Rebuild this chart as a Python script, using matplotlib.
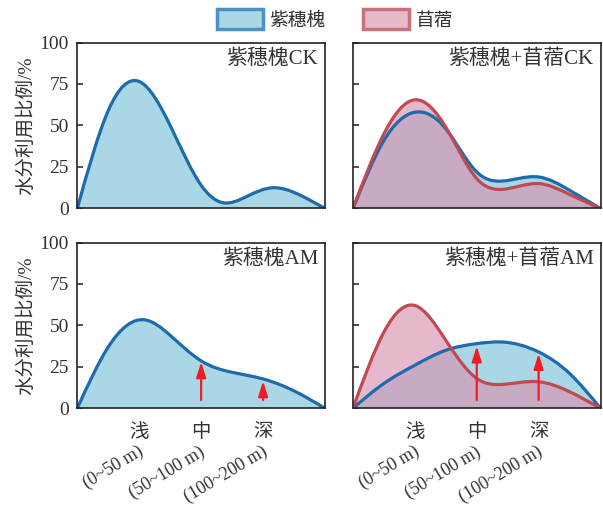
import numpy as np
import matplotlib
matplotlib.use('Agg')
import matplotlib.pyplot as plt
from matplotlib.path import Path
from matplotlib.patches import PathPatch, Patch

plt.rcParams['font.family'] = ['Liberation Serif', 'Noto Sans CJK SC']
plt.rcParams['axes.unicode_minus'] = False

# ---------------- data ----------------
depth_ticks = [1, 2, 3]
depth_labels = ['浅', '中', '深']
depth_ranges = ['(0~50 m)', '(50~100 m)', '(100~200 m)']
y_ticks = [0, 25, 50, 75, 100]
species = ['紫穗槐', '苜蓿']
panel_titles = ['紫穗槐CK', '紫穗槐+苜蓿CK', '紫穗槐AM', '紫穗槐+苜蓿AM']
ylabel = '水分利用比例/%'

# 紫穗槐 CK (single)
ck_single_x = [0, 0.5, 1.0, 1.5, 2.0, 2.35, 2.75, 3.15, 3.6, 4]
ck_single_y = [0, 59, 76.5, 50, 14, 3.5, 7.5, 12.5, 8, 0]

# 紫穗槐+苜蓿 CK
ck_mix_a_x = [0, 0.5, 1.0, 1.5, 2.0, 2.4, 3.0, 3.5, 4]
ck_mix_a_y = [0, 41, 58, 48, 22, 16.5, 19, 11, 0]
ck_mix_m_x = [0, 0.5, 1.0, 1.5, 2.0, 2.4, 3.0, 3.5, 4]
ck_mix_m_y = [0, 45, 65.5, 49, 18, 11.5, 15, 8.5, 0]

# 紫穗槐 AM (single)
am_single_x = [0, 0.5, 1.1, 1.5, 2.0, 2.5, 3.0, 3.5, 4]
am_single_y = [0, 37, 53.3, 44, 28.6, 21.7, 17.7, 10.5, 0]

# 紫穗槐+苜蓿 AM
am_mix_a_x = [0, 0.5, 1.0, 1.5, 2.0, 2.4, 3.0, 3.5, 4]
am_mix_a_y = [0, 15, 26, 35, 39, 40, 34, 21, 0]
am_mix_m_x = [0, 0.5, 1.0, 1.5, 2.0, 2.45, 3.0, 3.5, 4]
am_mix_m_y = [0, 46, 62, 41, 18, 14.5, 16, 10, 0]

# arrows (x position, tip value)
am_single_arrow_x = [2, 3]
am_single_arrow_top = [28, 16.5]
am_mix_arrow_x = [2, 3]
am_mix_arrow_top = [37.5, 33]
arrow_base = 5

# ---------------- styles ----------------
blue_fill = '#a9d7e6'
blue_line = '#1f6aab'
blue_leg_edge = '#4b91c2'
pink_fill = '#d993af'
pink_alpha = 0.65
pink_leg_face = '#e6b9cb'
pink_leg_edge = '#c8727a'
red_line = '#bf4a52'
arrow_color = '#ee1c25'
text_color = '#333333'


def natural_spline_path(x, y, close=False):
    x = np.asarray(x, float)
    y = np.asarray(y, float)
    n = len(x)
    h = np.diff(x)
    A = np.zeros((n, n))
    r = np.zeros(n)
    A[0, 0] = 1
    A[-1, -1] = 1
    for i in range(1, n - 1):
        A[i, i - 1] = h[i - 1]
        A[i, i] = 2 * (h[i - 1] + h[i])
        A[i, i + 1] = h[i]
        r[i] = 6 * ((y[i + 1] - y[i]) / h[i] - (y[i] - y[i - 1]) / h[i - 1])
    M = np.linalg.solve(A, r)
    verts = [(x[0], y[0])]
    codes = [Path.MOVETO]
    for i in range(n - 1):
        hi = h[i]
        s = (y[i + 1] - y[i]) / hi
        m0 = s - hi * (2 * M[i] + M[i + 1]) / 6
        m1 = s + hi * (M[i] + 2 * M[i + 1]) / 6
        verts += [(x[i] + hi / 3, y[i] + m0 * hi / 3),
                  (x[i + 1] - hi / 3, y[i + 1] - m1 * hi / 3),
                  (x[i + 1], y[i + 1])]
        codes += [Path.CURVE4] * 3
    if close:
        verts.append((x[0], 0))
        codes.append(Path.CLOSEPOLY)
    return Path(verts, codes)


def draw_series(ax, x, y, face, line, alpha=1.0, lw=2.3):
    ax.add_patch(PathPatch(natural_spline_path(x, y, close=True), facecolor=face,
                           edgecolor='none', alpha=alpha, zorder=2))
    ax.add_patch(PathPatch(natural_spline_path(x, y), facecolor='none',
                           edgecolor=line, lw=lw, zorder=3,
                           capstyle='round', joinstyle='round'))


def draw_arrows(ax, xs, tops):
    for xa, ya in zip(xs, tops):
        ax.annotate('', xy=(xa, ya), xytext=(xa, arrow_base),
                    arrowprops=dict(arrowstyle='-|>,head_length=0.7,head_width=0.22',
                                    color=arrow_color, lw=1.6, mutation_scale=13,
                                    shrinkA=0, shrinkB=0), zorder=5)


fig = plt.figure(figsize=(6.03, 5.08), dpi=100)
W, H = 603, 508


def axes_px(l, t, r, b):
    return fig.add_axes([l / W, 1 - b / H, (r - l) / W, (b - t) / H])


ax_tl = axes_px(77.3, 42.5, 325, 208.5)
ax_tr = axes_px(353, 42.5, 600.5, 208.5)
ax_bl = axes_px(77.3, 242.5, 325, 408.3)
ax_br = axes_px(353, 242.5, 600.5, 408.3)
axes = [ax_tl, ax_tr, ax_bl, ax_br]

draw_series(ax_tl, ck_single_x, ck_single_y, blue_fill, blue_line)
draw_series(ax_tr, ck_mix_a_x, ck_mix_a_y, blue_fill, blue_line)
draw_series(ax_tr, ck_mix_m_x, ck_mix_m_y, pink_fill, red_line, alpha=pink_alpha)
draw_series(ax_bl, am_single_x, am_single_y, blue_fill, blue_line)
draw_series(ax_br, am_mix_a_x, am_mix_a_y, blue_fill, blue_line)
draw_series(ax_br, am_mix_m_x, am_mix_m_y, pink_fill, red_line, alpha=pink_alpha)
draw_arrows(ax_bl, am_single_arrow_x, am_single_arrow_top)
draw_arrows(ax_br, am_mix_arrow_x, am_mix_arrow_top)

for i, ax in enumerate(axes):
    ax.set_xlim(0, 4)
    ax.set_ylim(0, 100)
    ax.set_yticks(y_ticks)
    ax.set_xticks(depth_ticks)
    for s in ax.spines.values():
        s.set_linewidth(1.2)
        s.set_color('#222222')
        s.set_zorder(6)
    ax.tick_params(direction='in', length=4, width=1.1, color='#222222',
                   labelsize=14, labelcolor=text_color, pad=6)
    ax.tick_params(axis='x', pad=11)
    ax.text(0.972, 0.955, panel_titles[i], transform=ax.transAxes,
            ha='right', va='top', fontsize=15, color=text_color, zorder=7)
    if i % 2 == 0:
        ax.set_ylabel(ylabel, fontsize=14, color=text_color, labelpad=3)
    else:
        ax.set_yticklabels([])
    if i < 2:
        ax.set_xticklabels([])
    else:
        ax.set_xticklabels(depth_labels)
        for xt, lab in zip(depth_ticks, depth_ranges):
            ax.text(xt - 0.03, -0.21, lab, transform=ax.get_xaxis_transform(),
                    rotation=31, rotation_mode='anchor', ha='right', va='top',
                    fontsize=13, color=text_color)

handles = [Patch(facecolor=blue_fill, edgecolor=blue_leg_edge, lw=2.5),
           Patch(facecolor=pink_leg_face, edgecolor=pink_leg_edge, lw=2.5)]
fig.legend(handles, species, loc='center', bbox_to_anchor=(0.556, 0.962),
           ncol=2, frameon=False, fontsize=13.5, handlelength=2.45,
           handleheight=1.3, columnspacing=2.0, handletextpad=0.37,
           labelcolor=text_color)

fig.savefig('out.png', dpi=100)
